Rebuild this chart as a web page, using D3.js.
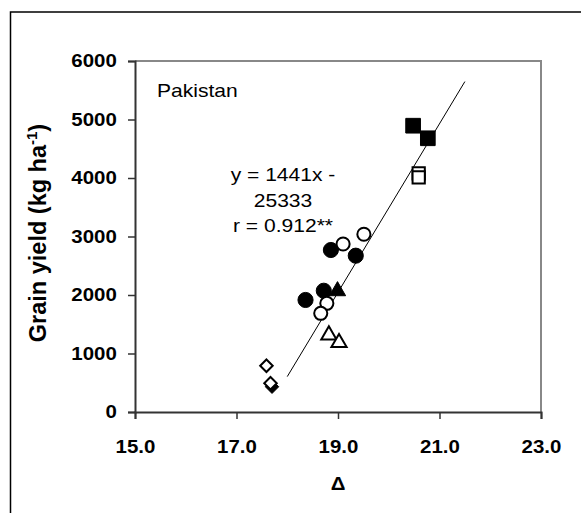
<!DOCTYPE html>
<html>
<head>
<meta charset="utf-8">
<script src="https://cdn.jsdelivr.net/npm/d3@7"></script>
<style>
  body { margin: 0; background: #fff; }
  svg { display: block; }
</style>
</head>
<body>
<svg id="chart" width="581" height="513"></svg>
<script>
// values (delta vs grain yield, kg/ha)
const filledSquares = [[20.48, 4894], [20.77, 4679]];
const openSquares = [[20.59, 4080], [20.59, 4009]];
const filledCircles = [[18.86, 2769], [19.35, 2672], [18.72, 2073], [18.36, 1915]];
const openCircles = [[19.51, 3038], [19.10, 2872], [18.78, 1858], [18.66, 1687]];
const filledTriangles = [[18.99, 2068]];
const openTriangles = [[18.82, 1316], [19.02, 1185]];
const filledDiamonds = [[17.70, 432]];
const openDiamonds = [[17.59, 791], [17.67, 491]];

const xTicks = [15, 17, 19, 21, 23];
const yTicks = [0, 1000, 2000, 3000, 4000, 5000, 6000];
const slope = 1441, intercept = -25333;
const fitRange = [18.0, 21.5];
const eqLines = ["y = 1441x -", "25333", "r = 0.912**"];

const svg = d3.select("#chart");
const font = "'Liberation Sans', Arial, sans-serif";
const stretch = 1.17; // reference text is wider than plain Arial

const plotLeft = 135, plotRight = 541, plotTop = 61, plotBottom = 412;

const x = d3.scaleLinear().domain([15, 23]).range([plotLeft, plotRight]);
const y = d3.scaleLinear().domain([0, 6000]).range([plotBottom, plotTop]);

// outer frame (runs off the right and bottom edges)
svg.append("path")
  .attr("d", `M600,12 H10.5 V530`)
  .attr("fill", "none")
  .attr("stroke", "#000")
  .attr("stroke-width", 1.5);

// plot area border (top + right)
svg.append("path")
  .attr("d", `M${plotLeft},${plotTop} H${plotRight} V${plotBottom}`)
  .attr("fill", "none")
  .attr("stroke", "#888")
  .attr("stroke-width", 2);

const xAxis = svg.append("g")
  .attr("transform", `translate(0,${plotBottom})`)
  .call(d3.axisBottom(x).tickValues(xTicks).tickSize(7).tickPadding(22)
    .tickFormat(d3.format(".1f")));

const yAxis = svg.append("g")
  .attr("transform", `translate(${plotLeft},0)`)
  .call(d3.axisLeft(y).tickValues(yTicks).tickSize(7).tickPadding(8.5)
    .tickFormat(d3.format("d")));

[xAxis, yAxis].forEach((g) => {
  g.select(".domain").attr("stroke", "#333").attr("stroke-width", 2);
  g.selectAll(".tick line").attr("stroke", "#333").attr("stroke-width", 1.5);
  g.selectAll(".tick text")
    .attr("fill", "#000")
    .style("font-family", font)
    .style("font-size", "17.5px")
    .style("font-weight", "bold")
    .attr("transform", `scale(${stretch},1)`);
});

// axis titles
svg.append("text")
  .attr("transform", `translate(${(plotLeft + plotRight) / 2},490) scale(${stretch},1)`)
  .attr("text-anchor", "middle")
  .style("font-family", font)
  .style("font-size", "17.5px")
  .style("font-weight", "bold")
  .text("Δ");

const yTitle = svg.append("text")
  .attr("transform", `translate(46,233) rotate(-90)`)
  .attr("text-anchor", "middle")
  .style("font-family", font)
  .style("font-size", "23.5px")
  .style("font-weight", "bold");
yTitle.append("tspan").text("Grain yield (kg ha");
yTitle.append("tspan").attr("dy", -9).style("font-size", "15px").text("-1");
yTitle.append("tspan").attr("dy", 9).text(")");

// annotations
svg.append("text")
  .attr("transform", `translate(157,97) scale(${stretch},1)`)
  .style("font-family", font)
  .style("font-size", "18px")
  .text("Pakistan");

svg.append("g")
  .selectAll("text")
  .data(eqLines)
  .join("text")
  .attr("transform", (d, i) => `translate(283,${181 + i * 25.5}) scale(${stretch},1)`)
  .attr("text-anchor", "middle")
  .style("font-family", font)
  .style("font-size", "18px")
  .text((d) => d);

// regression line
svg.append("line")
  .attr("x1", x(fitRange[0]))
  .attr("y1", y(slope * fitRange[0] + intercept))
  .attr("x2", x(fitRange[1]))
  .attr("y2", y(slope * fitRange[1] + intercept))
  .attr("stroke", "#000")
  .attr("stroke-width", 1);

// markers: filled series first, open ones drawn over them
const series = [
  { data: filledDiamonds, type: d3.symbolDiamond2, size: 115, filled: true },
  { data: filledTriangles, type: d3.symbolTriangle, size: 115, filled: true },
  { data: filledCircles, type: d3.symbolCircle, size: 180, filled: true },
  { data: filledSquares, type: d3.symbolSquare, size: 215, filled: true },
  { data: openDiamonds, type: d3.symbolDiamond2, size: 100, filled: false },
  { data: openTriangles, type: d3.symbolTriangle, size: 100, filled: false },
  { data: openCircles, type: d3.symbolCircle, size: 135, filled: false },
  { data: openSquares, type: d3.symbolSquare, size: 150, filled: false },
];

series.forEach((s) => {
  svg.append("g")
    .selectAll("path")
    .data(s.data)
    .join("path")
    .attr("transform", (d) => `translate(${x(d[0])},${y(d[1])})`)
    .attr("d", d3.symbol(s.type, s.size))
    .attr("fill", s.filled ? "#000" : "#fff")
    .attr("stroke", "#000")
    .attr("stroke-width", s.filled ? 1 : 2);
});
</script>
</body>
</html>
